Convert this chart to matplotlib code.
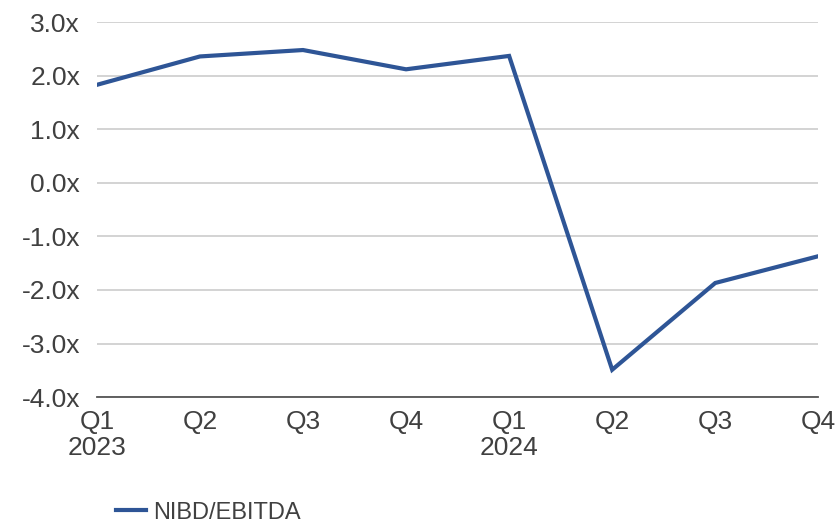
import matplotlib.pyplot as plt

# Quarterly leverage ratio
quarters = ['Q1\n2023', 'Q2', 'Q3', 'Q4', 'Q1\n2024', 'Q2', 'Q3', 'Q4']
nibd_ebitda = [1.83, 2.36, 2.48, 2.12, 2.37, -3.49, -1.87, -1.37]
y_ticks = [3, 2, 1, 0, -1, -2, -3, -4]

plt.rcParams['font.family'] = ['Liberation Sans', 'DejaVu Sans']
text_color = '#404040'
line_color = '#2E5596'

fig = plt.figure(figsize=(8.35, 5.28), dpi=100)
ax = fig.add_axes([0.116, 0.248, 0.864, 0.71])

x = range(len(quarters))
ax.plot(x, nibd_ebitda, color=line_color, linewidth=3, label='NIBD/EBITDA',
        solid_joinstyle='miter', zorder=3)

ax.set_xlim(0, len(quarters) - 1)
ax.set_ylim(-4, 3)
ax.set_yticks(y_ticks)
ax.set_yticklabels([f'{v:.1f}x' for v in y_ticks])
ax.set_xticks(list(x))
ax.set_xticklabels(quarters, linespacing=1.15)

ax.grid(axis='y', color='#d0d0d0', linewidth=1.3)
ax.set_axisbelow(True)
for side in ['top', 'right', 'left']:
    ax.spines[side].set_visible(False)
ax.spines['bottom'].set_color('#555555')
ax.spines['bottom'].set_linewidth(1.3)
ax.tick_params(axis='both', length=0, labelsize=19, labelcolor=text_color)
ax.tick_params(axis='y', pad=12)
ax.tick_params(axis='x', pad=9)

leg = fig.legend(loc='lower left', bbox_to_anchor=(0.113, -0.032), frameon=False,
                 fontsize=17, handlelength=1.3, handletextpad=0.3)
for t in leg.get_texts():
    t.set_color(text_color)

fig.savefig('out.png', dpi=100)
